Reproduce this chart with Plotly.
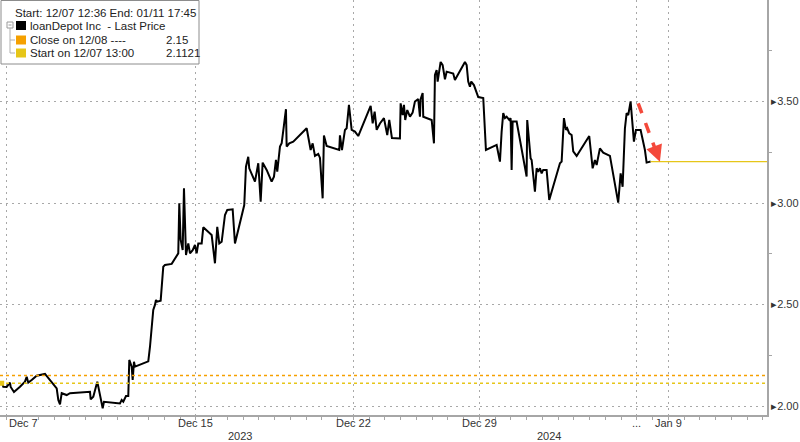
import plotly.graph_objects as go

# x = trading-session position (0 = Dec 7, 1 = Dec 8, ... 20 = Jan 8, 21 = Jan 9)
day_pos = [-0.168, -0.117, -0.010, 0.095, 0.117, 0.222, 0.413, 0.571, 0.625, 0.676, 0.784, 0.943,
           1.206, 1.470, 1.578, 1.629, 1.683, 1.737, 1.895, 2.000, 2.635, 2.657, 2.740, 2.867,
           2.952, 3.038, 3.079, 3.587, 3.641, 3.692, 3.778, 3.851, 3.883, 3.959, 3.990, 4.032,
           4.063, 4.435, 4.486, 4.540, 4.594, 4.644, 4.698, 4.730, 4.771, 4.879, 4.962, 5.016,
           5.229, 5.387, 5.438, 5.470, 5.514, 5.578, 5.619, 5.683, 5.756, 5.810, 5.895, 5.968,
           6.022, 6.073, 6.181, 6.232, 6.498, 6.603, 6.676, 6.740, 6.816, 6.921, 6.994, 7.165,
           7.238, 7.533, 7.587, 7.660, 7.692, 7.778, 7.873, 7.978, 8.054, 8.117, 8.244, 8.403,
           8.476, 8.540, 8.581, 8.667, 8.721, 8.794, 8.857, 8.879, 8.962, 9.089, 9.514, 9.641,
           9.705, 9.778, 9.883, 9.937, 10.022, 10.063, 10.149, 10.549, 10.571, 10.635, 10.730,
           10.784, 10.857, 10.943, 11.048, 11.152, 11.546, 11.610, 11.673, 11.737, 11.841,
           11.968, 12.032, 12.073, 12.137, 12.222, 12.476, 12.498, 12.562, 12.603, 12.644,
           12.708, 12.794, 12.879, 12.952, 13.057, 13.111, 13.133, 13.197, 13.216, 13.483,
           13.556, 13.587, 13.641, 13.673, 13.768, 13.832, 13.905, 13.959, 14.168, 14.222,
           14.540, 14.594, 14.644, 14.698, 14.740, 14.825, 14.889, 14.962, 15.121, 15.206,
           15.546, 15.651, 15.705, 15.756, 15.810, 15.863, 15.946, 15.990, 16.022, 16.054,
           16.181, 16.498, 16.517, 16.625, 16.657, 16.762, 16.816, 16.867, 16.921, 16.975,
           17.025, 17.133, 17.216, 17.556, 17.610, 17.683, 17.746, 17.787, 17.851, 17.927,
           17.978, 18.086, 18.486, 18.562, 18.594, 18.667, 18.721, 18.825, 18.930, 19.143,
           19.406, 19.483, 19.546, 19.619, 19.673, 19.724, 19.800, 19.905, 19.968, 20.117,
           20.254, 20.308, 20.435]
price = [2.120, 2.095, 2.094, 2.115, 2.094, 2.069, 2.095, 2.120, 2.144, 2.115, 2.128, 2.149,
         2.158, 2.111, 2.087, 2.030, 2.008, 2.063, 2.054, 2.063, 2.070, 2.033, 2.046, 2.120,
         2.063, 1.989, 2.021, 2.013, 2.030, 2.021, 2.049, 2.049, 2.227, 2.194, 2.128, 2.218,
         2.194, 2.218, 2.220, 2.292, 2.391, 2.473, 2.498, 2.522, 2.514, 2.519, 2.686, 2.695,
         2.700, 2.744, 2.752, 2.999, 2.818, 2.768, 3.072, 2.744, 2.801, 2.752, 2.768, 2.793,
         2.752, 2.801, 2.801, 2.880, 2.842, 2.703, 2.883, 2.801, 2.809, 2.941, 2.966, 2.969,
         2.801, 2.990, 3.179, 3.228, 3.171, 3.140, 3.105, 3.196, 3.006, 3.199, 3.163, 3.105,
         3.130, 3.212, 3.154, 3.278, 3.294, 3.384, 3.462, 3.278, 3.294, 3.302, 3.368, 3.261,
         3.294, 3.232, 3.242, 3.222, 3.023, 3.333, 3.281, 3.261, 3.333, 3.261, 3.360,
         3.368, 3.483, 3.360, 3.352, 3.330, 3.478, 3.392, 3.450, 3.360, 3.392,
         3.418, 3.360, 3.335, 3.409, 3.320, 3.318, 3.491, 3.433, 3.483, 3.409,
         3.458, 3.425, 3.445, 3.500, 3.512, 3.425, 3.512, 3.542, 3.425, 3.409,
         3.294, 3.631, 3.655, 3.598, 3.695, 3.679, 3.609, 3.647, 3.638, 3.606,
         3.695, 3.679, 3.598, 3.573, 3.598, 3.581, 3.557, 3.522, 3.517, 3.261,
         3.286, 3.204, 3.352, 3.443, 3.418, 3.425, 3.409, 3.418, 3.163, 3.401,
         3.401, 3.130, 3.409, 3.220, 3.212, 3.056, 3.171, 3.154, 3.171, 3.146,
         3.163, 3.163, 3.015, 3.196, 3.204, 3.418, 3.360, 3.368, 3.343, 3.335,
         3.254, 3.232, 3.330, 3.228, 3.171, 3.212, 3.187, 3.269, 3.248, 3.232,
         3.002, 3.146, 3.080, 3.368, 3.443, 3.433, 3.500, 3.302, 3.360, 3.360,
         3.261, 3.199, 3.204]

tick_pos = [0, 6, 11, 15, 20, 21]
tick_text = ["Dec 7", "Dec 15", "Dec 22", "Dec 29", "...", "Jan 9"]
year_pos = [7.4, 17.2]
year_text = ["2023", "2024"]
y_ticks = [2.0, 2.5, 3.0, 3.5]

close_1208 = 2.15
start_1207 = 2.1121
last_price = price[-1]
axis_end = 24.13
arrow_from = (20.04, 3.491)
arrow_to = (20.73, 3.203)

ORANGE = "#f5a000"
YELLOW = "#e6c619"
GRID = "#a8a8a8"
AXIS = "#a6a6a6"
TXT = "#333333"
FONT = "Liberation Sans"

fig = go.Figure()
fig.add_trace(go.Scatter(x=day_pos, y=price, mode="lines",
                         line=dict(color="black", width=2), hoverinfo="skip"))
# last price extension
fig.add_trace(go.Scatter(x=[day_pos[-1], axis_end], y=[last_price, last_price], mode="lines",
                         line=dict(color=YELLOW, width=1.2), hoverinfo="skip"))
# start marker
fig.add_trace(go.Scatter(x=[day_pos[0]], y=[start_1207], mode="markers",
                         marker=dict(color=YELLOW, size=5, symbol="square"), hoverinfo="skip"))

# reference lines
fig.add_hline(y=close_1208, line=dict(color=ORANGE, width=1.6, dash="dot"))
fig.add_hline(y=start_1207, line=dict(color=YELLOW, width=1.6, dash="dot"))

# red dashed arrow
fig.add_shape(type="line", x0=arrow_from[0], y0=arrow_from[1],
              x1=arrow_from[0] + 0.85 * (arrow_to[0] - arrow_from[0]),
              y1=arrow_from[1] + 0.85 * (arrow_to[1] - arrow_from[1]),
              line=dict(color="#f4493b", width=3.5, dash="dash"))
fig.add_annotation(x=arrow_to[0], y=arrow_to[1], ax=arrow_from[0] + 0.8 * (arrow_to[0] - arrow_from[0]),
                   ay=arrow_from[1] + 0.8 * (arrow_to[1] - arrow_from[1]),
                   xref="x", yref="y", axref="x", ayref="y", text="", showarrow=True,
                   arrowhead=2, arrowsize=1.1, arrowwidth=3, arrowcolor="#f4493b")

# x labels
for p, t in zip(tick_pos, tick_text):
    fig.add_annotation(x=p, y=0, xref="x", yref="paper", text=t, showarrow=False,
                       xanchor="left" if p == 0 else "center", yanchor="middle", yshift=-8,
                       font=dict(family=FONT, size=11, color=TXT))
for p, t in zip(year_pos, year_text):
    fig.add_annotation(x=p, y=0, xref="x", yref="paper", text=t, showarrow=False,
                       xanchor="center", yanchor="middle", yshift=-21,
                       font=dict(family=FONT, size=11, color=TXT))

# legend box (paper coords, plot area 767 x 415 px)
W, H = 767.0, 415.0
def px(x):
    return x / W
def py(y):
    return 1 - y / H

LFONT = dict(family=FONT, size=11.5, color="#222")
fig.add_shape(type="rect", xref="paper", yref="paper", x0=px(1), x1=px(199), y0=py(64), y1=py(0.5),
              line=dict(color="#8c8c8c", width=1), fillcolor="white", layer="above")
fig.add_annotation(xref="paper", yref="paper", x=px(13), y=py(13), text="Start: 12/07 12:36 End: 01/11 17:45",
                   showarrow=False, xanchor="left", yanchor="middle", font=LFONT)
rows = [("loanDepot Inc  - Last Price", "black", "", 25.5),
        ("Close on 12/08 ----", ORANGE, "2.15", 40),
        ("Start on 12/07 13:00", YELLOW, "2.1121", 53)]
for label, col, val, yc in rows:
    fig.add_shape(type="rect", xref="paper", yref="paper", x0=px(16), x1=px(26), y0=py(yc + 4.5), y1=py(yc - 4.5),
                  line=dict(width=0), fillcolor=col, layer="above")
    fig.add_annotation(xref="paper", yref="paper", x=px(28), y=py(yc), text=label, showarrow=False,
                       xanchor="left", yanchor="middle", font=LFONT)
    if val:
        fig.add_annotation(xref="paper", yref="paper", x=px(164), y=py(yc), text=val, showarrow=False,
                           xanchor="left", yanchor="middle", font=LFONT)
# tree glyphs
fig.add_shape(type="rect", xref="paper", yref="paper", x0=px(7), x1=px(13), y0=py(28), y1=py(22),
              line=dict(color="#9a9a9a", width=1), layer="above")
fig.add_shape(type="line", xref="paper", yref="paper", x0=px(8.5), x1=px(11.5), y0=py(25), y1=py(25),
              line=dict(color="#9a9a9a", width=1), layer="above")
fig.add_shape(type="line", xref="paper", yref="paper", x0=px(10), x1=px(10), y0=py(28), y1=py(53),
              line=dict(color="#b0b0b0", width=1), layer="above")
for yc in (40, 53):
    fig.add_shape(type="line", xref="paper", yref="paper", x0=px(10), x1=px(15), y0=py(yc), y1=py(yc),
                  line=dict(color="#b0b0b0", width=1), layer="above")

fig.update_layout(
    width=800, height=442, margin=dict(l=0, r=33, t=0, b=27),
    paper_bgcolor="white", plot_bgcolor="white", showlegend=False,
    xaxis=dict(range=[-0.222, axis_end], tickmode="array", tickvals=tick_pos, ticktext=[""] * len(tick_pos),
               showgrid=True, gridcolor=GRID, griddash="2px,4px", gridwidth=1, zeroline=False,
               showline=True, linecolor=AXIS, linewidth=1.5, ticks="", fixedrange=True,
               minor=dict(tickmode="linear", tick0=0, dtick=0.5, ticks="outside", ticklen=3,
                          tickcolor=AXIS, showgrid=False)),
    yaxis=dict(range=[1.9557, 4.0], side="right", tickmode="array", tickvals=y_ticks,
               ticktext=["\u25b8" + f"{v:.2f}" for v in y_ticks],
               showgrid=True, gridcolor=GRID, griddash="2px,4px", gridwidth=1, zeroline=False,
               showline=True, linecolor=AXIS, linewidth=2, ticks="", fixedrange=True,
               tickfont=dict(family=FONT, size=11, color=TXT),
               minor=dict(tickmode="linear", tick0=2.25, dtick=0.5, ticks="outside", ticklen=3,
                          tickcolor=AXIS, showgrid=False)),
)

fig.write_html("out.html", config={"displayModeBar": False},
               post_script="document.body.style.margin='0';document.body.style.overflow='hidden';")
